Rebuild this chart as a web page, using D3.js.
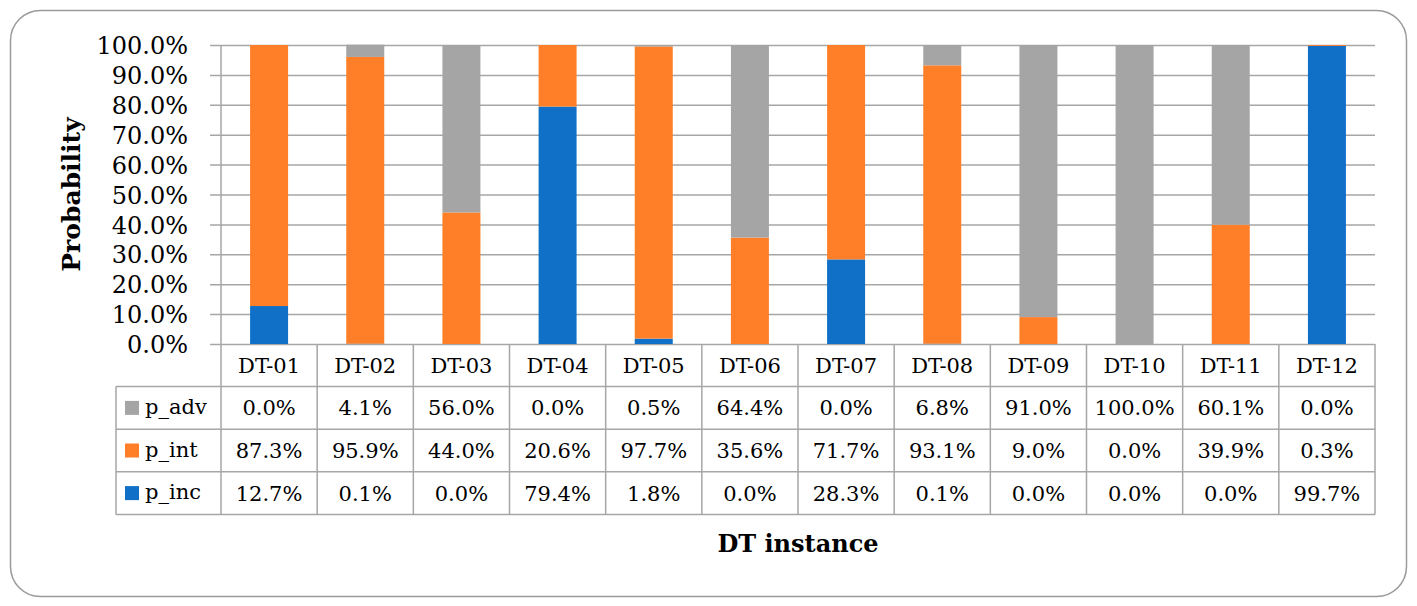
<!DOCTYPE html>
<html>
<head>
<meta charset="utf-8">
<script src="https://cdn.jsdelivr.net/npm/d3@7"></script>
<style>
  html, body { margin: 0; padding: 0; background: #fff; }
  svg text { font-family: "DejaVu Serif", serif; fill: #000; }
</style>
</head>
<body>
<div id="chart"></div>
<script>
const categories = ["DT-01", "DT-02", "DT-03", "DT-04", "DT-05", "DT-06", "DT-07", "DT-08", "DT-09", "DT-10", "DT-11", "DT-12"];
const p_adv = [0.0, 4.1, 56.0, 0.0, 0.5, 64.4, 0.0, 6.8, 91.0, 100.0, 60.1, 0.0];
const p_int = [87.3, 95.9, 44.0, 20.6, 97.7, 35.6, 71.7, 93.1, 9.0, 0.0, 39.9, 0.3];
const p_inc = [12.7, 0.1, 0.0, 79.4, 1.8, 0.0, 28.3, 0.1, 0.0, 0.0, 0.0, 99.7];
const yTicks = [0, 10, 20, 30, 40, 50, 60, 70, 80, 90, 100];

// series from bottom to top of the stack
const series = [
  { key: "p_inc", values: p_inc, color: "#1070c8" },
  { key: "p_int", values: p_int, color: "#fe7f28" },
  { key: "p_adv", values: p_adv, color: "#a5a5a5" }
];
const tableRows = series.slice().reverse(); // table lists p_adv first

const W = 1417, H = 606;
const plot = { left: 221, right: 1375, top: 45, bottom: 344 };
const rowH = 42.6;
const gridColor = "#a6a6a6";
const fmt = v => v.toFixed(1) + "%";

const svg = d3.select("#chart").append("svg")
  .attr("width", W).attr("height", H)
  .attr("viewBox", `0 0 ${W} ${H}`);

// outer rounded frame
svg.append("rect")
  .attr("x", 10.5).attr("y", 10.5)
  .attr("width", 1396).attr("height", 586)
  .attr("rx", 30).attr("ry", 30)
  .attr("fill", "#fff")
  .attr("stroke", "#9a9a9a").attr("stroke-width", 1.5);

const x = d3.scaleBand()
  .domain(categories)
  .range([plot.left, plot.right])
  .paddingInner(0).paddingOuter(0);

const y = d3.scaleLinear()
  .domain([0, 100])
  .range([plot.bottom, plot.top]);

// gridlines + tick labels
const yAxis = d3.axisLeft(y)
  .tickValues(yTicks)
  .tickSize(-(plot.right - plot.left))
  .tickFormat(d => d.toFixed(1) + "%");

const gy = svg.append("g")
  .attr("transform", `translate(${plot.left},0)`)
  .call(yAxis);
gy.select(".domain").remove();
gy.selectAll(".tick line")
  .attr("x1", -11)
  .attr("stroke", gridColor).attr("stroke-width", 1.5);
gy.selectAll(".tick text")
  .attr("x", -33)
  .attr("dy", "0.36em")
  .style("font-size", "24px")
  .style("font-family", "DejaVu Serif, serif");

// stacked bars
const barW = 38;
const stackData = categories.map((c, i) => {
  const o = { cat: c };
  series.forEach(s => { o[s.key] = s.values[i]; });
  return o;
});
const stack = d3.stack().keys(series.map(s => s.key));
const layers = stack(stackData);

svg.append("g").selectAll("g")
  .data(layers)
  .join("g")
  .attr("fill", (d, i) => series[i].color)
  .selectAll("rect")
  .data(d => d)
  .join("rect")
  .attr("x", d => x(d.data.cat) + (x.bandwidth() - barW) / 2)
  .attr("y", d => y(d[1]))
  .attr("width", barW)
  .attr("height", d => y(d[0]) - y(d[1]));

// vertical axis line, running down through the table
svg.append("line")
  .attr("x1", plot.left).attr("x2", plot.left)
  .attr("y1", plot.top).attr("y2", plot.bottom + rowH * 4)
  .attr("stroke", gridColor).attr("stroke-width", 1.5);

// data table
const tbl = svg.append("g");
const legendLeft = 116;
const tableBottom = plot.bottom + rowH * 4;

// horizontal rule lines of the table
for (let r = 1; r <= 4; r++) {
  tbl.append("line")
    .attr("x1", legendLeft).attr("x2", plot.right)
    .attr("y1", plot.bottom + rowH * r).attr("y2", plot.bottom + rowH * r)
    .attr("stroke", gridColor).attr("stroke-width", 1.5);
}
// column separators
categories.forEach(c => {
  const cx = x(c) + x.bandwidth();
  tbl.append("line")
    .attr("x1", cx).attr("x2", cx)
    .attr("y1", plot.bottom).attr("y2", tableBottom)
    .attr("stroke", gridColor).attr("stroke-width", 1.5);
});
// legend column left border
tbl.append("line")
  .attr("x1", legendLeft).attr("x2", legendLeft)
  .attr("y1", plot.bottom + rowH).attr("y2", tableBottom)
  .attr("stroke", gridColor).attr("stroke-width", 1.5);

// header row
tbl.selectAll("text.hdr")
  .data(categories)
  .join("text")
  .attr("class", "hdr")
  .attr("x", d => x(d) + x.bandwidth() / 2)
  .attr("y", plot.bottom + rowH / 2)
  .attr("dy", "0.36em")
  .attr("text-anchor", "middle")
  .style("font-size", "21px")
  .text(d => d);

// value rows
tableRows.forEach((s, r) => {
  const cy = plot.bottom + rowH * (r + 1) + rowH / 2;
  tbl.append("rect")
    .attr("x", 125).attr("y", cy - 7)
    .attr("width", 14).attr("height", 14)
    .attr("fill", s.color);
  tbl.append("text")
    .attr("x", 145).attr("y", cy)
    .attr("dy", "0.3em")
    .style("font-size", "21px")
    .text(s.key);
  tbl.selectAll("text.v" + r)
    .data(s.values)
    .join("text")
    .attr("class", "v" + r)
    .attr("x", (d, i) => x(categories[i]) + x.bandwidth() / 2)
    .attr("y", cy)
    .attr("dy", "0.36em")
    .attr("text-anchor", "middle")
    .style("font-size", "21px")
    .text(d => fmt(d));
});

// axis titles
svg.append("text")
  .attr("transform", `translate(80,${(plot.top + plot.bottom) / 2}) rotate(-90)`)
  .attr("text-anchor", "middle")
  .style("font-size", "25px")
  .style("font-weight", "bold")
  .text("Probability");

svg.append("text")
  .attr("x", (plot.left + plot.right) / 2)
  .attr("y", 552)
  .attr("text-anchor", "middle")
  .style("font-size", "24px")
  .style("font-weight", "bold")
  .text("DT instance");
</script>
</body>
</html>
